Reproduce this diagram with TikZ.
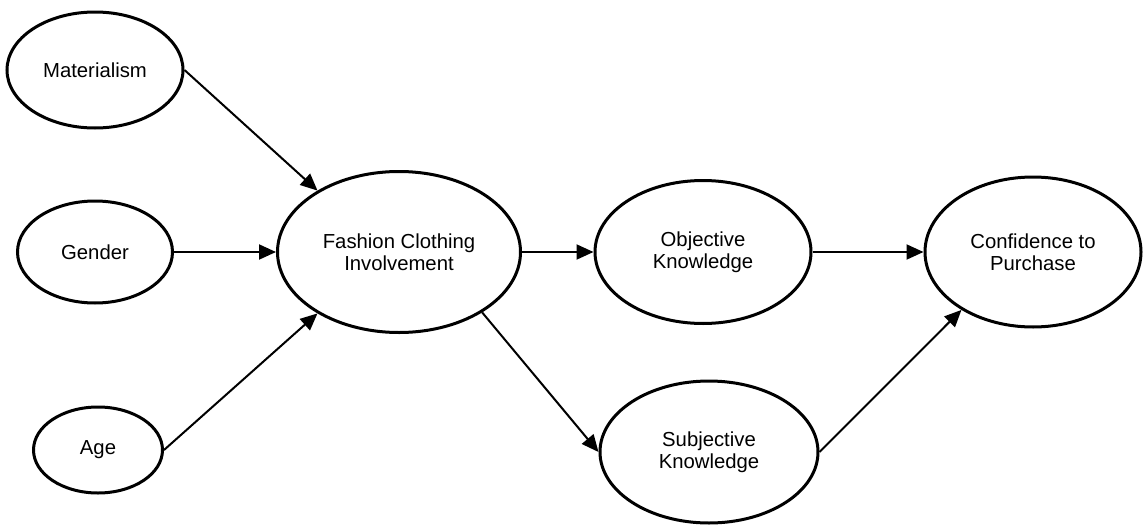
\documentclass[tikz,border=0pt]{standalone}
\usepackage{fontspec}
\setmainfont{Liberation Sans}
\usetikzlibrary{shapes.geometric,arrows.meta}
\begin{document}
\begin{tikzpicture}[x=1pt,y=-1pt,
  construct/.style={draw=black, line width=3pt, ellipse, inner sep=0pt, align=center,
    font=\fontsize{20.3}{22.5}\selectfont},
  link/.style={line width=2pt, -{Triangle[length=17pt,width=15pt]}}]
\path[use as bounding box] (0,0) rectangle (1144,525);
\node[construct, minimum width=176pt, minimum height=116pt] (mat) at (95,70) {Materialism};
\node[construct, minimum width=155pt, minimum height=102pt] (gen) at (95,252) {Gender};
\node[construct, minimum width=129pt, minimum height=86pt] (age) at (98,450) {Age};
\node[construct, minimum width=243pt, minimum height=161pt] (fci) at (399,252) {Fashion Clothing\\Involvement};
\node[construct, minimum width=216pt, minimum height=143pt] (obj) at (703,252) {Objective\\Knowledge};
\node[construct, minimum width=218pt, minimum height=142pt] (subj) at (709,452) {Subjective\\Knowledge};
\node[construct, minimum width=216pt, minimum height=150pt] (conf) at (1033,252) {Confidence to\\Purchase};
\draw[link] (mat.east) -- (fci.143);
\draw[link] (gen.east) -- (fci.west);
\draw[link] (age.east) -- (fci.217);
\draw[link] (fci.east) -- (obj.west);
\draw[link] (fci.324) -- (subj.west);
\draw[link] (obj.east) -- (conf.west);
\draw[link] (subj.east) -- (conf.219);
\end{tikzpicture}
\end{document}
